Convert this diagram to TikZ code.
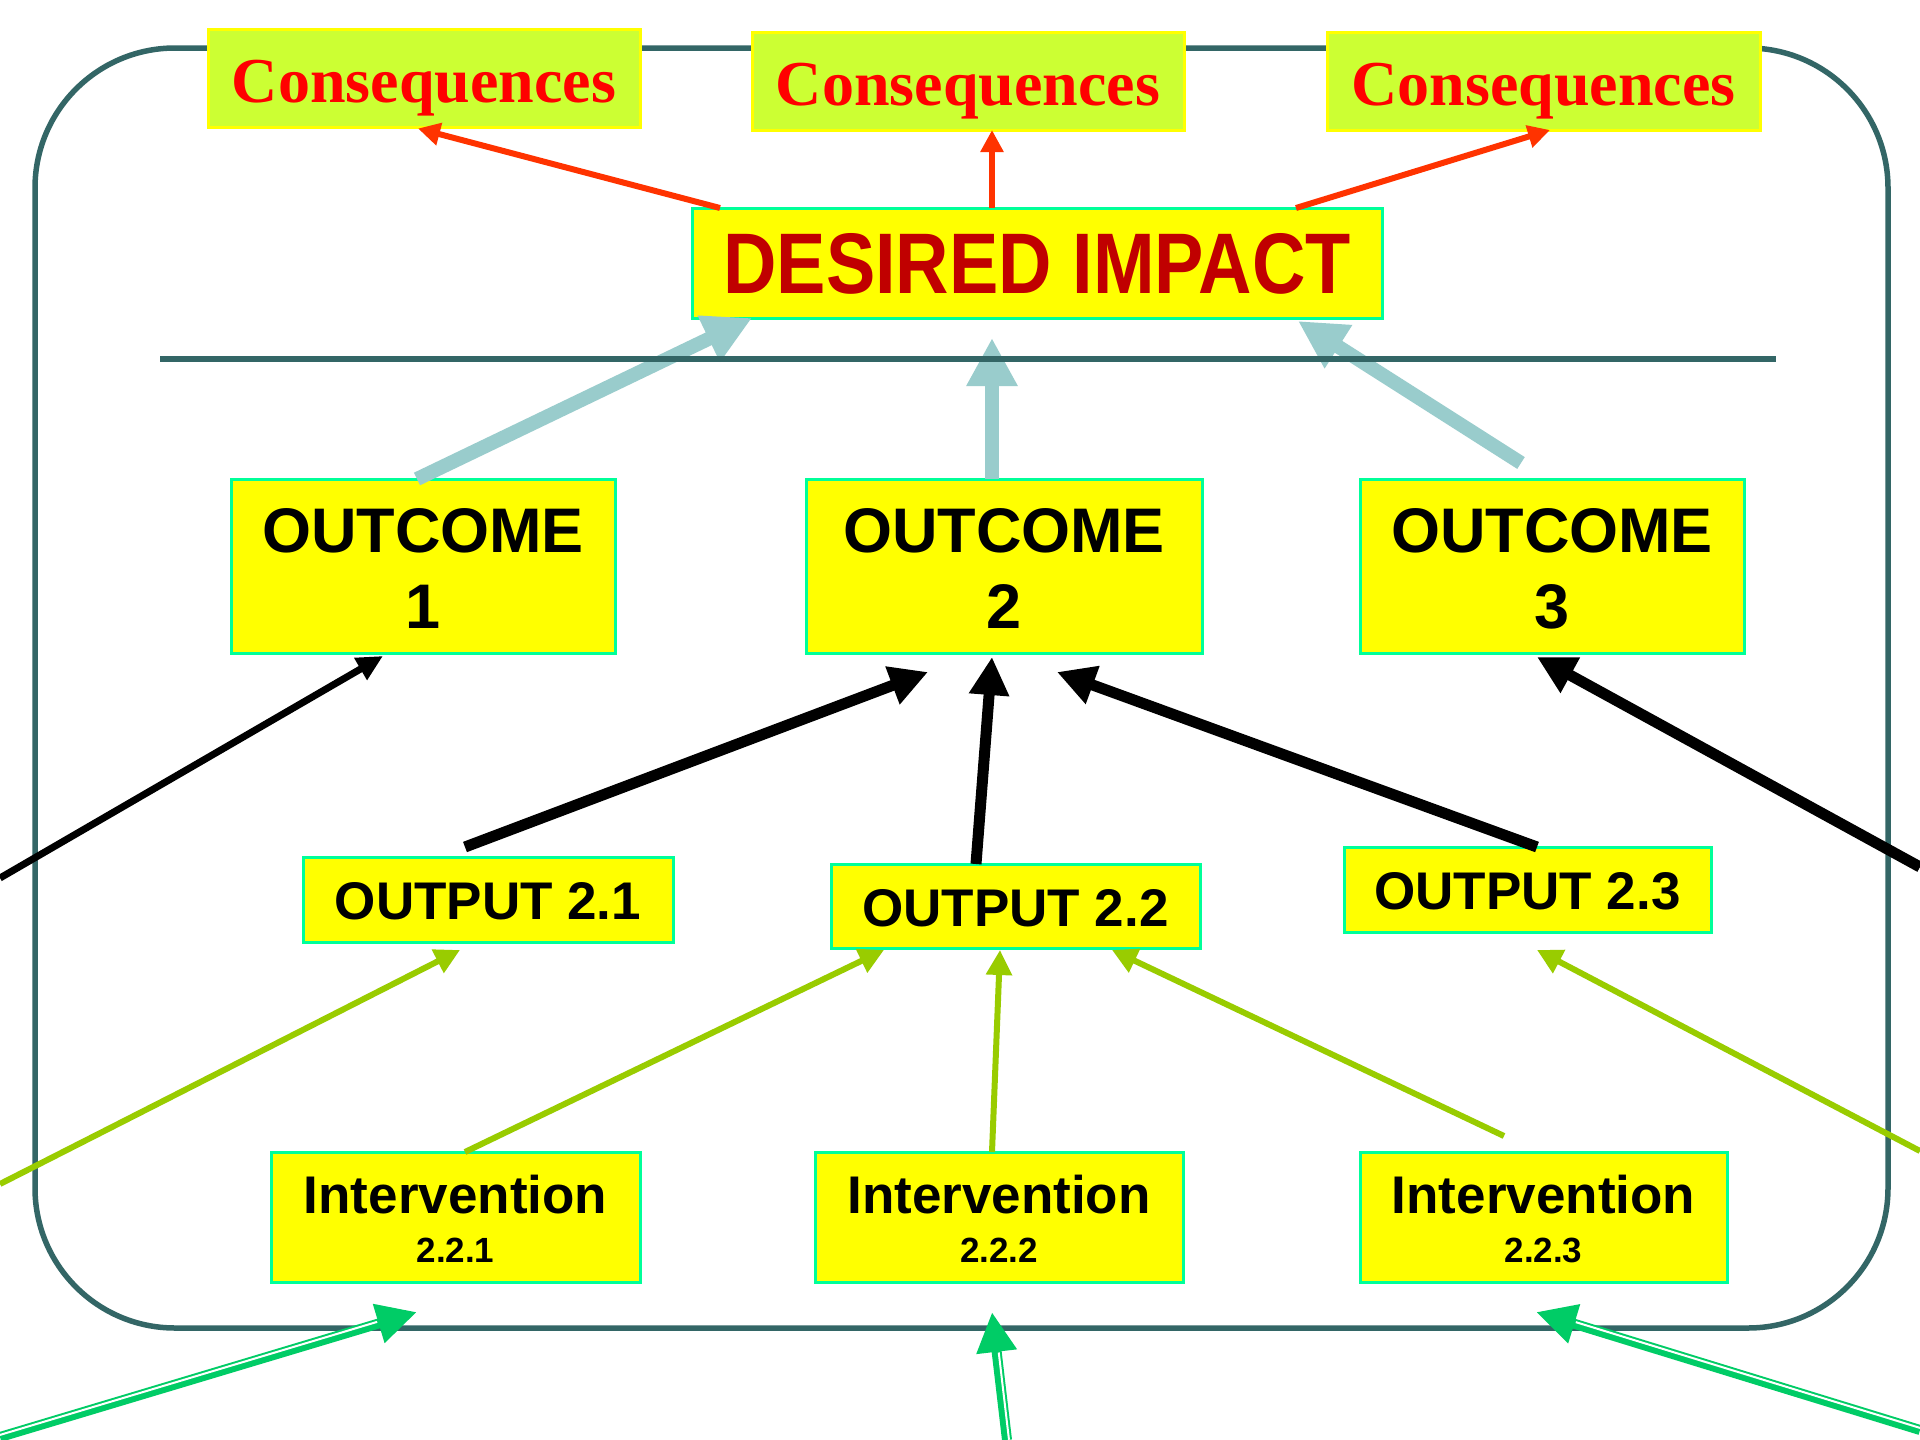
\documentclass[tikz,border=0pt]{standalone}
\usepackage{fontspec}
\setmainfont{Liberation Sans}
\newfontfamily\serifb{Liberation Serif}
\usetikzlibrary{arrows.meta,calc}
\definecolor{frameC}{HTML}{336666}
\definecolor{boxline}{HTML}{00FF99}
\definecolor{boxfill}{HTML}{FFFF00}
\definecolor{consfill}{HTML}{CCFF33}
\definecolor{consred}{HTML}{FF0000}
\definecolor{impred}{HTML}{C00000}
\definecolor{arrred}{HTML}{FF3300}
\definecolor{tealarrC}{HTML}{99CCCC}
\definecolor{ygreen}{HTML}{99CC00}
\definecolor{dgreen}{HTML}{00CC66}
\newcommand\txtat[2]{\makebox[0pt]{\raisebox{-#1pt}[0pt][0pt]{#2}}}
\begin{document}
\begin{tikzpicture}[x=1pt,y=-1pt,
  ybox/.style={draw=boxline, fill=boxfill, line width=3pt, inner sep=0pt, outer sep=0pt},
  cbox/.style={draw=boxfill, fill=consfill, line width=3pt, inner sep=0pt, outer sep=0pt,
    minimum width=432pt, minimum height=98pt, text=consred,
    font=\serifb\bfseries\fontsize{64}{64}\selectfont},
  obox/.style={ybox, minimum width=384pt, minimum height=174pt, font=\bfseries\fontsize{63}{76}\selectfont},
  pbox/.style={ybox, minimum width=369pt, minimum height=85pt, font=\bfseries\fontsize{53}{60}\selectfont},
  ibox/.style={ybox, minimum width=368pt, minimum height=130pt, font=\bfseries\fontsize{53}{60}\selectfont},
  redarr/.style={draw=arrred, line width=6pt, -{Triangle[length=22pt,width=22pt]}},
  tealarr/.style={draw=tealarrC, line width=14pt, -{Triangle[length=48pt,width=48pt]}},
  blkarr/.style={draw=black, line width=11pt, -{Triangle[length=38pt,width=38pt]}},
  blkthin/.style={draw=black, line width=7pt, -{Triangle[length=26pt,width=24pt]}},
  ygarr/.style={draw=ygreen, line width=6pt, -{Triangle[length=25pt,width=25pt]}},
  dblarr/.style={draw=dgreen, line width=10pt, -{Triangle[length=40pt,width=38pt]}},
  gap/.style={draw=white, line width=2pt},
  framest/.style={draw=frameC, line width=5.5pt}
]
\useasboundingbox (0,0) rectangle (1920,1440);
\fill[white] (0,0) rectangle (1920,1440);

% frame
\draw[framest, rounded corners=140pt] (35,48) rectangle (1888,1328);

% boxes
\node[cbox] (cons1) at (424,78.5) {\txtat{24}{Consequences}};
\node[cbox] (cons2) at (968,81) {\txtat{24}{Consequences}};
\node[cbox, minimum width=433pt] (cons3) at (1543.5,81) {\txtat{24}{Consequences}};
\node[ybox, minimum width=690pt, minimum height=110pt, text=impred,
      font=\bfseries\fontsize{86}{86}\selectfont] (imp) at (1037,263)
      {\txtat{30}{\scalebox{0.86}[1]{DESIRED IMPACT}}};
\node[obox] (o1) at (423,566) {\txtat{-14}{OUTCOME}\txtat{62}{1}};
\node[obox, minimum width=396pt] (o2) at (1004,566) {\txtat{-14}{OUTCOME}\txtat{62}{2}};
\node[obox] (o3) at (1552,566) {\txtat{-14}{OUTCOME}\txtat{62}{3}};
\node[pbox, minimum width=370pt] (op1) at (488,899.5) {\txtat{20}{OUTPUT 2.1}};
\node[pbox, minimum height=84pt] (op2) at (1015.5,906) {\txtat{20}{OUTPUT 2.2}};
\node[pbox, minimum width=367pt] (op3) at (1527.5,889.5) {\txtat{20}{OUTPUT 2.3}};
\node[ibox, minimum width=369pt] (i1) at (455.5,1217) {\txtat{-4}{Intervention}\txtat{45}{\fontsize{35}{40}\selectfont 2.2.1}};
\node[ibox] (i2) at (999,1217) {\txtat{-4}{Intervention}\txtat{45}{\fontsize{35}{40}\selectfont 2.2.2}};
\node[ibox, minimum width=367pt] (i3) at (1543.5,1217) {\txtat{-4}{Intervention}\txtat{45}{\fontsize{35}{40}\selectfont 2.2.3}};

% teal arrows (under the rule)
\draw[tealarr] ($(o1.north west)+(186,0)$) -- ($(imp.north west)+(60,110)$);
\draw[tealarr] ($(o2.north west)+(186,0)$) -- ($(imp.north west)+(300,130)$);
\draw[tealarr] ($(o3.north west)+(161,-16)$) -- ($(imp.north west)+(606,113)$);
\draw[framest] (160,359) -- (1776,359);

% red arrows
\draw[redarr] ($(imp.north west)+(28,0)$) -- ($(cons1.north west)+(210,99)$);
\draw[redarr] ($(imp.north west)+(300,0)$) -- ($(cons2.north west)+(240,98)$);
\draw[redarr] ($(imp.north west)+(604,0)$) -- ($(cons3.north west)+(223,98)$);

% black arrows
\coordinate (b1s) at (0,878);
\coordinate (b5s) at (1920,867);
\draw[blkthin] (b1s) -- ($(o1.north west)+(152,177)$);
\draw[blkarr] ($(op1.north west)+(162,-10)$) -- ($(o2.north west)+(122,193)$);
\draw[blkarr] ($(op2.north west)+(145,0)$) -- ($(o2.north west)+(186,178)$);
\draw[blkarr] ($(op3.north west)+(193,0)$) -- ($(o2.north west)+(251,193)$);
\draw[blkarr] (b5s) -- ($(o3.north west)+(177,178)$);

% yellow-green arrows
\coordinate (g1s) at (0,1184);
\coordinate (g5s) at (1920,1151);
\draw[ygarr] (g1s) -- ($(op1.north west)+(157,93)$);
\draw[ygarr] ($(i1.north west)+(194,0)$) -- ($(op2.north west)+(53,86)$);
\draw[ygarr] ($(i2.north west)+(177,0)$) -- ($(op2.north west)+(169,86)$);
\draw[ygarr] ($(i3.north west)+(144,-16)$) -- ($(op2.north west)+(281,86)$);
\draw[ygarr] (g5s) -- ($(op3.north west)+(193,103)$);

% green double arrows
\coordinate (d1s) at (0,1437);
\coordinate (d1t) at ($(i1.north west)+(146,160)$);
\coordinate (d1b) at ($(d1t)!41pt!(d1s)$);
\draw[dblarr] (d1s) -- (d1t);
\draw[gap] ($(d1s)!2pt!90:(d1t)$) -- ($(d1b)!2pt!-90:(d1s)$);

\coordinate (d2s) at (1007,1440);
\coordinate (d2t) at ($(i2.north west)+(177,160)$);
\coordinate (d2b) at ($(d2t)!41pt!(d2s)$);
\draw[dblarr] (d2s) -- (d2t);
\draw[gap] ($(d2s)!2pt!-90:(d2t)$) -- ($(d2b)!2pt!90:(d2s)$);

\coordinate (d3s) at (1920,1430);
\coordinate (d3t) at ($(i3.north west)+(176,160)$);
\coordinate (d3b) at ($(d3t)!41pt!(d3s)$);
\draw[dblarr] (d3s) -- (d3t);
\draw[gap] ($(d3s)!2pt!-90:(d3t)$) -- ($(d3b)!2pt!90:(d3s)$);
\end{tikzpicture}
\end{document}
